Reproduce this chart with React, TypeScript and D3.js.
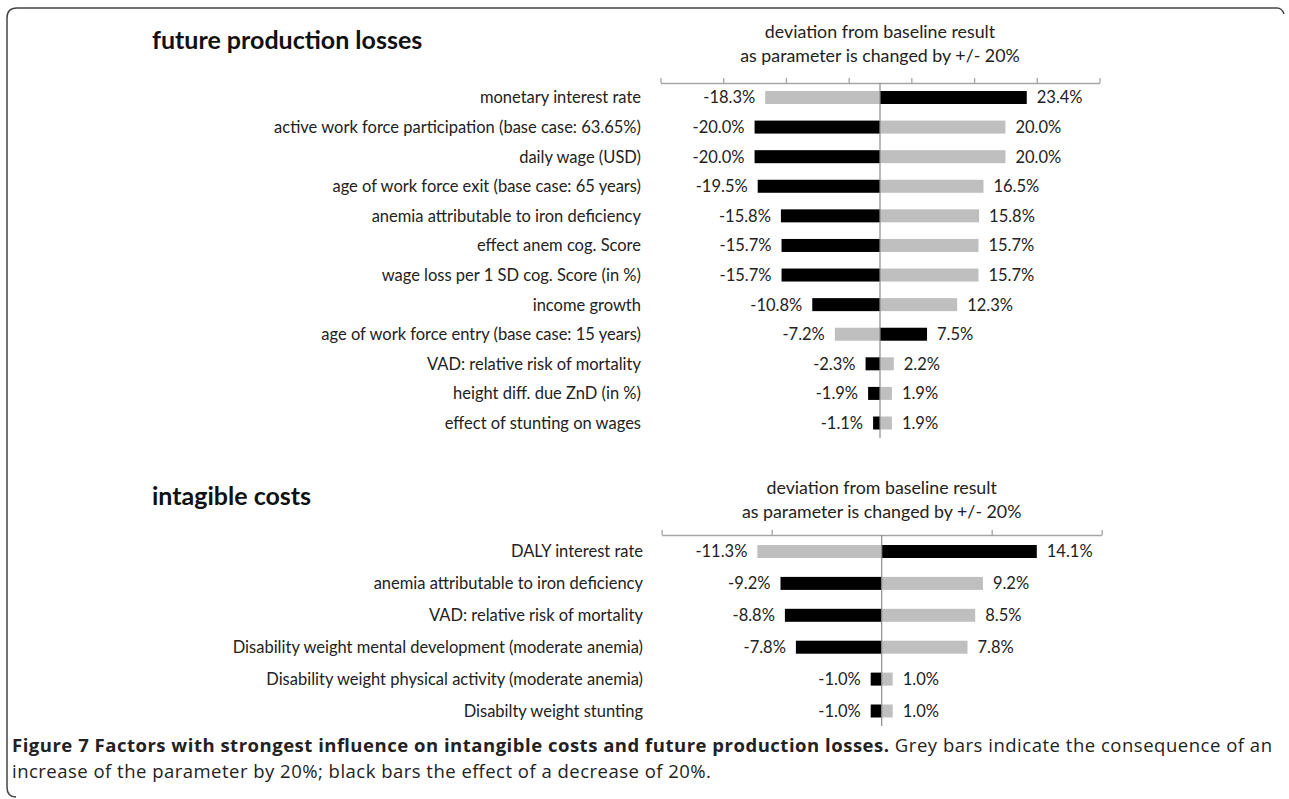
import { useRef, useEffect } from "react";
import * as d3 from "d3";

// future production losses
const topCategories = [
  "monetary interest rate",
  "active work force participation (base case: 63.65%)",
  "daily wage (USD)",
  "age of work force exit (base case: 65 years)",
  "anemia attributable to iron deficiency",
  "effect anem cog. Score",
  "wage loss per 1 SD cog. Score (in %)",
  "income growth",
  "age of work force entry (base case: 15 years)",
  "VAD: relative risk of mortality",
  "height diff. due ZnD (in %)",
  "effect of stunting on wages",
];
// grey = parameter +20%, black = parameter -20%
const topIncrease = [-18.3, 20.0, 20.0, 16.5, 15.8, 15.7, 15.7, 12.3, -7.2, 2.2, 1.9, 1.9];
const topDecrease = [23.4, -20.0, -20.0, -19.5, -15.8, -15.7, -15.7, -10.8, 7.5, -2.3, -1.9, -1.1];
const topTicks = [-35, -25, -15, -5, 5, 15, 25, 35];

// intangible costs
const botCategories = [
  "DALY interest rate",
  "anemia attributable to iron deficiency",
  "VAD: relative risk of mortality",
  "Disability weight mental development (moderate anemia)",
  "Disability weight physical activity (moderate anemia)",
  "Disabilty weight stunting",
];
const botIncrease = [-11.3, 9.2, 8.5, 7.8, 1.0, 1.0];
const botDecrease = [14.1, -9.2, -8.8, -7.8, -1.0, -1.0];
const botTicks = [-20, -10, 10, 20];

const LABEL_FONT = "Lato, 'Open Sans', sans-serif";
const CAPTION_FONT = "'Open Sans', sans-serif";

const drawPanel = (svg, cfg) => {
  const x = d3.scaleLinear().domain(cfg.domain).range(cfg.xRange);
  const y = d3.scalePoint().domain(cfg.categories).range(cfg.yRange);
  const barH = 13;
  const g = svg.append("g");

  // title
  g.append("text")
    .attr("x", 152)
    .attr("y", cfg.titleY)
    .attr("font-family", LABEL_FONT)
    .attr("font-weight", "bold")
    .attr("font-size", 25)
    .attr("fill", "#111")
    .text(cfg.title);

  // axis title
  const x0 = x(0);
  ["deviation from baseline result", "as parameter is changed by +/- 20%"].forEach((t, i) => {
    g.append("text")
      .attr("x", x0)
      .attr("y", cfg.axisTitleY + i * 24)
      .attr("text-anchor", "middle")
      .attr("font-family", LABEL_FONT)
      .attr("font-size", 17.8)
      .attr("fill", "#222")
      .text(t);
  });

  // axis with upward ticks
  const axis = g
    .append("g")
    .attr("transform", `translate(0,${cfg.axisY})`)
    .call(d3.axisTop(x).tickValues(cfg.ticks).tickSize(5).tickFormat(() => "").tickSizeOuter(0));
  axis.select(".domain").attr("stroke", "#a6a6a6").attr("stroke-width", 1.3);
  axis.selectAll(".tick line").attr("stroke", "#a6a6a6").attr("stroke-width", 1.3);

  const rows = cfg.categories.map((c, i) => ({
    label: c,
    inc: cfg.increase[i],
    dec: cfg.decrease[i],
  }));

  const bars = [];
  rows.forEach((r) => {
    bars.push({ label: r.label, v: r.inc, color: "#bfbfbf" });
    bars.push({ label: r.label, v: r.dec, color: "#000" });
  });

  g.selectAll(".bar")
    .data(bars)
    .enter()
    .append("rect")
    .attr("class", "bar")
    .attr("x", (d) => Math.min(x(0), x(d.v)))
    .attr("y", (d) => y(d.label) - barH / 2)
    .attr("width", (d) => Math.abs(x(d.v) - x(0)))
    .attr("height", barH)
    .attr("fill", (d) => d.color);

  // value labels
  g.selectAll(".val")
    .data(bars)
    .enter()
    .append("text")
    .attr("class", "val")
    .attr("x", (d) => (d.v < 0 ? x(d.v) - 10 : x(d.v) + 10))
    .attr("y", (d) => y(d.label))
    .attr("dy", "0.36em")
    .attr("text-anchor", (d) => (d.v < 0 ? "end" : "start"))
    .attr("font-family", LABEL_FONT)
    .attr("font-size", 16.5)
    .attr("fill", "#222")
    .text((d) => `${d.v.toFixed(1)}%`);

  // category labels
  g.selectAll(".cat")
    .data(rows)
    .enter()
    .append("text")
    .attr("class", "cat")
    .attr("x", cfg.labelX)
    .attr("y", (d) => y(d.label))
    .attr("dy", "0.36em")
    .attr("text-anchor", "end")
    .attr("font-family", LABEL_FONT)
    .attr("font-size", 16.5)
    .attr("fill", "#222")
    .text((d) => d.label);

  // zero line
  g.append("line")
    .attr("x1", x0)
    .attr("x2", x0)
    .attr("y1", cfg.axisY)
    .attr("y2", cfg.yRange[1] + 15)
    .attr("stroke", "#8c8c8c")
    .attr("stroke-width", 1.2);
};

const App = () => {
  const svgRef = useRef(null);

  useEffect(() => {
    const svg = d3.select(svgRef.current);
    svg.selectAll("*").remove();

    // figure frame: top and left edges with rounded corners
    svg.append("path")
      .attr("d", "M16,797 Q7,797 7,787 L7,18 Q7,8 17,8 L1277,8 Q1282,8 1284,14")
      .attr("fill", "none")
      .attr("stroke", "#444")
      .attr("stroke-width", 1.5);

    drawPanel(svg, {
      title: "future production losses",
      titleY: 49,
      categories: topCategories,
      increase: topIncrease,
      decrease: topDecrease,
      ticks: topTicks,
      domain: [-35, 35],
      xRange: [660.5, 1099.5],
      yRange: [97.5, 423],
      axisY: 83,
      axisTitleY: 38,
      labelX: 641,
    });

    drawPanel(svg, {
      title: "intagible costs",
      titleY: 505,
      categories: botCategories,
      increase: botIncrease,
      decrease: botDecrease,
      ticks: botTicks,
      domain: [-20, 20],
      xRange: [661.7, 1101.7],
      yRange: [551.5, 711],
      axisY: 535,
      axisTitleY: 494,
      labelX: 643,
    });

    // caption
    const cap = svg.append("text")
      .attr("x", 12)
      .attr("y", 752)
      .attr("font-family", CAPTION_FONT)
      .attr("font-size", 18.5)
      .attr("fill", "#222")
      .attr("textLength", 1260)
      .attr("lengthAdjust", "spacing");
    cap.append("tspan")
      .attr("font-weight", "bold")
      .text("Figure 7 Factors with strongest influence on intangible costs and future production losses.");
    cap.append("tspan").text(" Grey bars indicate the consequence of an");
    svg.append("text")
      .attr("x", 12)
      .attr("y", 778)
      .attr("font-family", CAPTION_FONT)
      .attr("font-size", 18.5)
      .attr("fill", "#222")
      .attr("textLength", 699)
      .attr("lengthAdjust", "spacing")
      .text("increase of the parameter by 20%; black bars the effect of a decrease of 20%.");
  }, []);

  return (
    <div style={{ position: "absolute", left: 0, top: 0 }}>
      <svg ref={svgRef} width="1289" height="799" style={{ display: "block", background: "#fff" }}></svg>
    </div>
  );
};

export default App;
